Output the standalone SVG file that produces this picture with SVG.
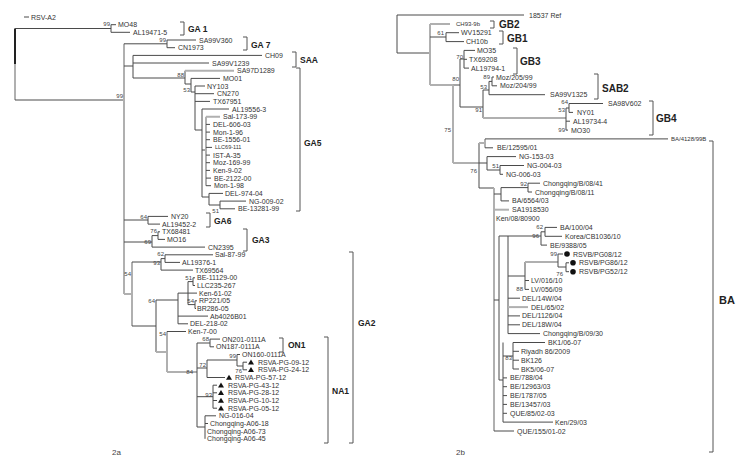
<svg xmlns="http://www.w3.org/2000/svg" xmlns:xlink="http://www.w3.org/1999/xlink" width="744" height="460" viewBox="0 0 744 460">
<style>
.b{stroke:#4a4a4a;stroke-width:1;fill:none}
.bt{stroke:#222;stroke-width:2;fill:none}
.g{stroke:#b0b0b0;stroke-width:2;fill:none}
.k{stroke:#555;stroke-width:1;fill:none}
text{font-family:"Liberation Sans",Arial,sans-serif;fill:#333}
.t{font-size:7px}
.s{font-size:5.5px}
.s6{font-size:6px}
.bs{font-size:6px;text-anchor:end;fill:#444}
.lab{font-size:8.5px;font-weight:bold;fill:#222}
.labr{font-size:10px;font-weight:bold;fill:#222}
.labba{font-size:11px;font-weight:bold;fill:#222}
.cap{font-size:8px;fill:#444}
</style>
<defs>
<path id="tri" d="M-3,2.3 L3,2.3 L0,-2.7Z" fill="#111"/>
<circle id="dot" r="2.8" fill="#111"/>
</defs>
<rect width="744" height="460" fill="#fff"/>

<g id="connectors">
<!-- left tree (2a) -->
<path class="b" d="M24,17H29"/>
<path class="bt" d="M15,28.5V64"/>
<path class="g" d="M15,64V100"/>
<path class="b" d="M15,28.5H111M111,24.7V32.3M111,24.7H116M111,32.3H130M15,100H124"/>
<path class="g" d="M124,43.8V294"/>
<path class="b" d="M124,43.8H167M167,40V47.7M167,40H196M167,47.7H175"/>
<path class="b" d="M124,66H133M133,55.4V78M133,55.4H262M133,63H209M133,78H185"/>
<path class="b" d="M185,70.7V84M185,84H191M191,78.4V92M191,78.4H220M191,92H195"/>
<path class="g" d="M185,70.7H234"/>
<path class="b" d="M195,86V130M195,86H205M195,93.7H214M195,101.4H210M195,130H202"/>
<path class="b" d="M202,109V197M202,109H229M202,150H206M202,197H209"/>
<path class="g" d="M206,116.7V185.7M206,116.7H220"/>
<path class="b" d="M206,124.4H210M206,132.1H210M206,139.7H210M206,147.4H212M206,155.1H210M206,162.7H210M206,170.4H210M206,178.1H211M206,185.7H211"/>
<path class="b" d="M209,193.4V205M209,193.4H223M209,205H220M220,201.1V208.8M220,201.1H246M220,208.8H235"/>
<path class="b" d="M124,220H148M148,216.4V224.1M148,216.4H168M148,224.1H160"/>
<path class="b" d="M124,242H152M152,235.6V247.1M152,247.1H205M152,235.6H158M158,231.8V239.4M158,231.8H160M158,239.4H165"/>
<path class="g" d="M124,294H132M132,262V326"/>
<path class="b" d="M132,262H161M161,258.6V270.1M161,258.6H165M165,254.8V262.4M165,254.8H213M165,262.4H180M161,270.1H193"/>
<path class="b" d="M132,326H156M156,300V352M156,300H178"/>
<path class="b" d="M178,293.1V323.8M178,293.1H197M178,316.1H208M178,323.8H188"/>
<path class="b" d="M188,281.6V304.6M188,281.6H193M193,277.8V285.5M193,277.8H195M193,285.5H195M188,304.6H195M195,300.8V308.5M195,300.8H197M195,308.5H196"/>
<path class="g" d="M156,352H167M167,331.5V372M167,372H197"/>
<path class="b" d="M167,331.5H186"/>
<path class="b" d="M197,343V427M197,343H210M210,339.1V346.8M210,339.1H220M210,346.8H214"/>
<path class="b" d="M197,368H207M207,360V377.5M207,360H237M237,354.5V366M237,354.5H240M237,366H243M243,362.2V369.8M243,362.2H247M243,369.8H247M207,377.5H225"/>
<path class="b" d="M197,396.7H213M213,385.2V408.2M213,385.2H217M213,392.8H217M213,400.5H217M213,408.2H217"/>
<path class="b" d="M197,427H205M205,415.8V438.8M205,415.8H216M205,423.5H208"/>

<!-- right tree (2b) -->
<path class="b" d="M397,15V53M397,15H524M397,53H430"/>
<path class="g" d="M430,24V85M430,24H450M430,85H453"/>
<path class="b" d="M430,37H446M446,32.7V41.6M446,32.7H459M446,41.6H464"/>
<path class="b" d="M453,85H460M460,59V107M460,59H464M464,50.4V68.1M464,50.4H475M464,59.3H467M464,68.1H469"/>
<path class="b" d="M460,107H483M483,90V118M483,90H489M489,81.4V94.7M489,81.4H492M492,77V85.8M492,77H494M492,85.8H497M489,94.7H545"/>
<path class="g" d="M483,118H566"/>
<path class="b" d="M566,108V130.1M566,108H569M569,103.5V112.4M569,103.5H603M569,112.4H573M566,121.2H570M566,130.1H568"/>
<path class="g" d="M453,85V163M453,163H479"/>
<path class="b" d="M479,143V188"/>
<path class="g" d="M479,143H485M485,138.9V147.8"/>
<path class="b" d="M485,138.9H668M485,147.8H493"/>
<path class="b" d="M479,163H487M487,156.6V170M487,156.6H516M487,170H500M500,165.5V174.3M500,165.5H524M500,174.3H503"/>
<path class="b" d="M479,188H494"/>
<path class="g" d="M494,188V431"/>
<path class="b" d="M494,194H501M501,187.6V200.9M501,187.6H528M528,183.2V192M528,183.2H540M528,192H532M501,200.9H509"/>
<path class="g" d="M494,209.7H509"/>
<path class="b" d="M494,300H499M499,236V380M499,236H508"/>
<path class="b" d="M508,236V333.6M508,236H541M541,231.8V245.1M541,231.8H545M545,227.4V236.3M545,227.4H557M545,236.3H562M541,245.1H547"/>
<path class="b" d="M508,276H525M525,262V289.4M525,280.5H529M525,289.4H529"/>
<path class="g" d="M525,262H558"/>
<path class="b" d="M558,254V267M558,254H563M558,267H566M566,262.8V271.7M566,262.8H569M566,271.7H569"/>
<path class="b" d="M508,298.2H520M508,315.9H520M508,324.8H520M508,333.6H540"/>
<path class="g" d="M508,307.1H528"/>
<path class="b" d="M499,380H503M503,342.5V422.1M503,356H513M513,342.5V369M513,342.5H545M513,351.3H519M513,360.2H519M513,369H519"/>
<path class="b" d="M503,377.9H507M503,386.7H507M503,395.6H507M503,404.4H507M503,413.3H507M503,422.1H553"/>
<path class="b" d="M494,431H514"/>
</g>

<g id="brackets">
<path class="k" d="M180,22H184V35H180"/>
<path class="k" d="M243,37H247V50H243"/>
<path class="k" d="M292,52H296V67H292"/>
<path class="k" d="M296,68H300V211H296"/>
<path class="k" d="M206,213H210V227H206"/>
<path class="k" d="M243,229H247V251H243"/>
<path class="k" d="M279,338H283V352H279"/>
<path class="k" d="M324,337H328V443H324"/>
<path class="k" d="M349,252H353V443H349"/>
<path class="k" d="M490,21H494V28H490"/>
<path class="k" d="M499,31H503V44H499"/>
<path class="k" d="M513,48H517V74H513"/>
<path class="k" d="M594,74H598V99H594"/>
<path class="k" d="M649,101H653V135H649"/>
<path class="k" d="M709,141H713V452H709"/>
</g>

<g id="group-labels">
<text class="lab" x="188" y="31.5">GA 1</text>
<text class="lab" x="251" y="48">GA 7</text>
<text class="lab" x="300" y="63">SAA</text>
<text class="lab" x="304" y="146">GA5</text>
<text class="lab" x="214" y="224">GA6</text>
<text class="lab" x="252" y="243">GA3</text>
<text class="lab" x="288" y="348">ON1</text>
<text class="lab" x="332" y="394">NA1</text>
<text class="lab" x="358" y="326">GA2</text>
<text class="labr" x="499" y="28">GB2</text>
<text class="labr" x="507" y="41.5">GB1</text>
<text class="labr" x="520" y="64.5">GB3</text>
<text class="labr" x="602" y="91.5">SAB2</text>
<text class="labr" x="656" y="121.5">GB4</text>
<text class="labba" x="719" y="304">BA</text>
<text class="cap" x="112" y="455">2a</text>
<text class="cap" x="456" y="455">2b</text>
</g>

<g id="bootstrap">
<text class="bs" x="110" y="25.5">99</text>
<text class="bs" x="166" y="42">99</text>
<text class="bs" x="123" y="98">99</text>
<text class="bs" x="184" y="76.5">88</text>
<text class="bs" x="190" y="92">53</text>
<text class="bs" x="219" y="213">51</text>
<text class="bs" x="147" y="219">64</text>
<text class="bs" x="157" y="233">76</text>
<text class="bs" x="151" y="244">69</text>
<text class="bs" x="164" y="256">62</text>
<text class="bs" x="160" y="265">93</text>
<text class="bs" x="131" y="276">54</text>
<text class="bs" x="192" y="280">51</text>
<text class="bs" x="194" y="303">54</text>
<text class="bs" x="155" y="303">64</text>
<text class="bs" x="166" y="336">54</text>
<text class="bs" x="193" y="374">84</text>
<text class="bs" x="209" y="341">68</text>
<text class="bs" x="206" y="367">72</text>
<text class="bs" x="236" y="357.5">99</text>
<text class="bs" x="242" y="373">76</text>
<text class="bs" x="212" y="397">93</text>
<text class="bs" x="444" y="35">61</text>
<text class="bs" x="463" y="59">70</text>
<text class="bs" x="459" y="81">80</text>
<text class="bs" x="490" y="79">89</text>
<text class="bs" x="487" y="89">53</text>
<text class="bs" x="482" y="112">91</text>
<text class="bs" x="568" y="103.5">64</text>
<text class="bs" x="565" y="111.5">53</text>
<text class="bs" x="565" y="132">99</text>
<text class="bs" x="451" y="132">75</text>
<text class="bs" x="477" y="173">76</text>
<text class="bs" x="499" y="168">51</text>
<text class="bs" x="527" y="186">92</text>
<text class="bs" x="543" y="229">62</text>
<text class="bs" x="539" y="238">96</text>
<text class="bs" x="557" y="256">99</text>
<text class="bs" x="563" y="276">76</text>
<text class="bs" x="523" y="291">88</text>
<text class="bs" x="512" y="360">83</text>
</g>

<g id="leaves-2a">
<g id="RSV-A2"><text class="t" x="31" y="19.5">RSV-A2</text></g>
<g id="MO48"><text class="t" x="118" y="27.2">MO48</text></g>
<g id="AL19471-5"><text class="t" x="133" y="34.8">AL19471-5</text></g>
<g id="SA99V360"><text class="t" x="199" y="42.5">SA99V360</text></g>
<g id="CN1973"><text class="t" x="178" y="50.2">CN1973</text></g>
<g id="CH09"><text class="t" x="265" y="57.9">CH09</text></g>
<g id="SA99V1239"><text class="t" x="212" y="65.5">SA99V1239</text></g>
<g id="SA97D1289"><text class="t" x="237" y="73.2">SA97D1289</text></g>
<g id="MO01"><text class="t" x="223" y="80.9">MO01</text></g>
<g id="NY103"><text class="t" x="207" y="88.5">NY103</text></g>
<g id="CN270"><text class="t" x="217" y="96.2">CN270</text></g>
<g id="TX67951"><text class="t" x="213" y="103.9">TX67951</text></g>
<g id="AL19556-3"><text class="t" x="232" y="111.5">AL19556-3</text></g>
<g id="Sal-173-99"><text class="t" x="223" y="119.2">Sal-173-99</text></g>
<g id="DEL-606-03"><text class="t" x="213" y="126.9">DEL-606-03</text></g>
<g id="Mon-1-96"><text class="t" x="213" y="134.6">Mon-1-96</text></g>
<g id="BE-1556-01"><text class="t" x="213" y="142.2">BE-1556-01</text></g>
<g id="LLC69-111"><text class="s" x="215" y="149.4">LLC69-111</text></g>
<g id="IST-A-35"><text class="t" x="213" y="157.6">IST-A-35</text></g>
<g id="Moz-169-99"><text class="t" x="213" y="165.2">Moz-169-99</text></g>
<g id="Ken-9-02"><text class="t" x="213" y="172.9">Ken-9-02</text></g>
<g id="BE-2122-00"><text class="t" x="214" y="180.6">BE-2122-00</text></g>
<g id="Mon-1-98"><text class="t" x="214" y="188.2">Mon-1-98</text></g>
<g id="DEL-974-04"><text class="t" x="225" y="195.9">DEL-974-04</text></g>
<g id="NG-009-02"><text class="t" x="249" y="203.6">NG-009-02</text></g>
<g id="BE-13281-99"><text class="t" x="238" y="211.3">BE-13281-99</text></g>
<g id="NY20"><text class="t" x="171" y="218.9">NY20</text></g>
<g id="AL19452-2"><text class="t" x="162" y="226.6">AL19452-2</text></g>
<g id="TX68481"><text class="t" x="162" y="234.3">TX68481</text></g>
<g id="MO16"><text class="t" x="167" y="241.9">MO16</text></g>
<g id="CN2395"><text class="t" x="208" y="249.6">CN2395</text></g>
<g id="Sal-87-99"><text class="t" x="215" y="257.3">Sal-87-99</text></g>
<g id="AL19376-1"><text class="t" x="182" y="264.9">AL19376-1</text></g>
<g id="TX69564"><text class="t" x="195" y="272.6">TX69564</text></g>
<g id="BE-11129-00"><text class="t" x="197" y="280.3">BE-11129-00</text></g>
<g id="LLC235-267"><text class="t" x="197" y="288">LLC235-267</text></g>
<g id="Ken-61-02"><text class="t" x="199" y="295.6">Ken-61-02</text></g>
<g id="RP221_05"><text class="t" x="199" y="303.3">RP221/05</text></g>
<g id="BR286-05"><text class="t" x="197" y="311">BR286-05</text></g>
<g id="Ab4026B01"><text class="t" x="210" y="318.6">Ab4026B01</text></g>
<g id="DEL-218-02"><text class="t" x="190" y="326.3">DEL-218-02</text></g>
<g id="Ken-7-00"><text class="t" x="188" y="334">Ken-7-00</text></g>
<g id="ON201-0111A"><text class="t" x="222" y="341.6">ON201-0111A</text></g>
<g id="ON187-0111A"><text class="t" x="216" y="349.3">ON187-0111A</text></g>
<g id="ON160-0111A"><text class="t" x="242" y="357">ON160-0111A</text></g>
<g id="RSVA-PG-09-12"><use href="#tri" x="251" y="362.2"/><text class="t" x="258" y="364.7">RSVA-PG-09-12</text></g>
<g id="RSVA-PG-24-12"><use href="#tri" x="251" y="369.8"/><text class="t" x="258" y="372.3">RSVA-PG-24-12</text></g>
<g id="RSVA-PG-57-12"><use href="#tri" x="229" y="377.5"/><text class="t" x="235" y="380">RSVA-PG-57-12</text></g>
<g id="RSVA-PG-43-12"><use href="#tri" x="221" y="385.2"/><text class="t" x="228" y="387.7">RSVA-PG-43-12</text></g>
<g id="RSVA-PG-28-12"><use href="#tri" x="221" y="392.8"/><text class="t" x="228" y="395.3">RSVA-PG-28-12</text></g>
<g id="RSVA-PG-10-12"><use href="#tri" x="221" y="400.5"/><text class="t" x="228" y="403">RSVA-PG-10-12</text></g>
<g id="RSVA-PG-05-12"><use href="#tri" x="221" y="408.2"/><text class="t" x="228" y="410.7">RSVA-PG-05-12</text></g>
<g id="NG-016-04"><text class="t" x="219" y="418.3">NG-016-04</text></g>
<g id="Chongqing-A06-18"><text class="t" x="210" y="426">Chongqing-A06-18</text></g>
<g id="Chongqing-A06-73"><text class="t" x="207" y="433.7">Chongqing-A06-73</text></g>
<g id="Chongqing-A06-45"><text class="t" x="207" y="441.3">Chongqing-A06-45</text></g>
</g>

<g id="leaves-2b">
<g id="r18537Ref"><text class="t" x="529" y="17.5">18537 Ref</text></g>
<g id="CH93-9b"><text class="s6" x="456" y="26">CH93-9b</text></g>
<g id="WV15291"><text class="t" x="461" y="35.2">WV15291</text></g>
<g id="CH10b"><text class="t" x="466" y="44.1">CH10b</text></g>
<g id="MO35"><text class="t" x="477" y="52.9">MO35</text></g>
<g id="TX69208"><text class="t" x="469" y="61.8">TX69208</text></g>
<g id="AL19794-1"><text class="t" x="471" y="70.6">AL19794-1</text></g>
<g id="Moz_205_99"><text class="t" x="496" y="79.5">Moz/205/99</text></g>
<g id="Moz_204_99"><text class="t" x="500" y="88.3">Moz/204/99</text></g>
<g id="SA99V1325"><text class="t" x="550" y="97.2">SA99V1325</text></g>
<g id="SA98V602"><text class="t" x="608" y="106">SA98V602</text></g>
<g id="NY01"><text class="t" x="577" y="114.9">NY01</text></g>
<g id="AL19734-4"><text class="t" x="573" y="123.7">AL19734-4</text></g>
<g id="MO30"><text class="t" x="571" y="132.6">MO30</text></g>
<g id="BA_4128_99B"><text class="s6" x="671" y="141.1">BA/4128/99B</text></g>
<g id="BE_12595_01"><text class="t" x="497" y="150.3">BE/12595/01</text></g>
<g id="NG-153-03"><text class="t" x="519" y="159.1">NG-153-03</text></g>
<g id="NG-004-03"><text class="t" x="527" y="168">NG-004-03</text></g>
<g id="NG-006-03"><text class="t" x="506" y="176.8">NG-006-03</text></g>
<g id="Chongqing_B_08_41"><text class="t" x="543" y="185.7">Chongqing/B/08/41</text></g>
<g id="Chongqing_B_08_11"><text class="t" x="535" y="194.5">Chongqing/B/08/11</text></g>
<g id="BA_6564_03"><text class="t" x="512" y="203.4">BA/6564/03</text></g>
<g id="SA1918530"><text class="t" x="512" y="212.2">SA1918530</text></g>
<g id="Ken_08_80900"><text class="t" x="496" y="221.1">Ken/08/80900</text></g>
<g id="BA_100_04"><text class="t" x="560" y="229.9">BA/100/04</text></g>
<g id="Korea_CB1036_10"><text class="t" x="565" y="238.8">Korea/CB1036/10</text></g>
<g id="BE_9388_05"><text class="t" x="550" y="247.6">BE/9388/05</text></g>
<g id="RSVB_PG08_12"><use href="#dot" x="567" y="254"/><text class="t" x="573" y="256.5">RSVB/PG08/12</text></g>
<g id="RSVB_PG86_12"><use href="#dot" x="573" y="262.8"/><text class="t" x="579" y="265.3">RSVB/PG86/12</text></g>
<g id="RSVB_PG52_12"><use href="#dot" x="573" y="271.7"/><text class="t" x="579" y="274.2">RSVB/PG52/12</text></g>
<g id="LV_016_10"><text class="t" x="531" y="283">LV/016/10</text></g>
<g id="LV_056_09"><text class="t" x="531" y="291.9">LV/056/09</text></g>
<g id="DEL_14W_04"><text class="t" x="522" y="300.7">DEL/14W/04</text></g>
<g id="DEL_65_02"><text class="t" x="531" y="309.6">DEL/65/02</text></g>
<g id="DEL_1126_04"><text class="t" x="522" y="318.4">DEL/1126/04</text></g>
<g id="DEL_18W_04"><text class="t" x="522" y="327.3">DEL/18W/04</text></g>
<g id="Chongqing_B_09_30"><text class="t" x="543" y="336.1">Chongqing/B/09/30</text></g>
<g id="BK1_06-07"><text class="t" x="548" y="345">BK1/06-07</text></g>
<g id="Riyadh_86_2009"><text class="t" x="521" y="353.8">Riyadh 86/2009</text></g>
<g id="BK126"><text class="t" x="521" y="362.7">BK126</text></g>
<g id="BK5_06-07"><text class="t" x="521" y="371.5">BK5/06-07</text></g>
<g id="BE_788_04"><text class="t" x="510" y="380.4">BE/788/04</text></g>
<g id="BE_12963_03"><text class="t" x="510" y="389.2">BE/12963/03</text></g>
<g id="BE_1787_05"><text class="t" x="510" y="398.1">BE/1787/05</text></g>
<g id="BE_13457_03"><text class="t" x="510" y="406.9">BE/13457/03</text></g>
<g id="QUE_85_02-03"><text class="t" x="510" y="415.8">QUE/85/02-03</text></g>
<g id="Ken_29_03"><text class="t" x="555" y="424.6">Ken/29/03</text></g>
<g id="QUE_155_01-02"><text class="t" x="517" y="433.5">QUE/155/01-02</text></g>
</g>
</svg>
